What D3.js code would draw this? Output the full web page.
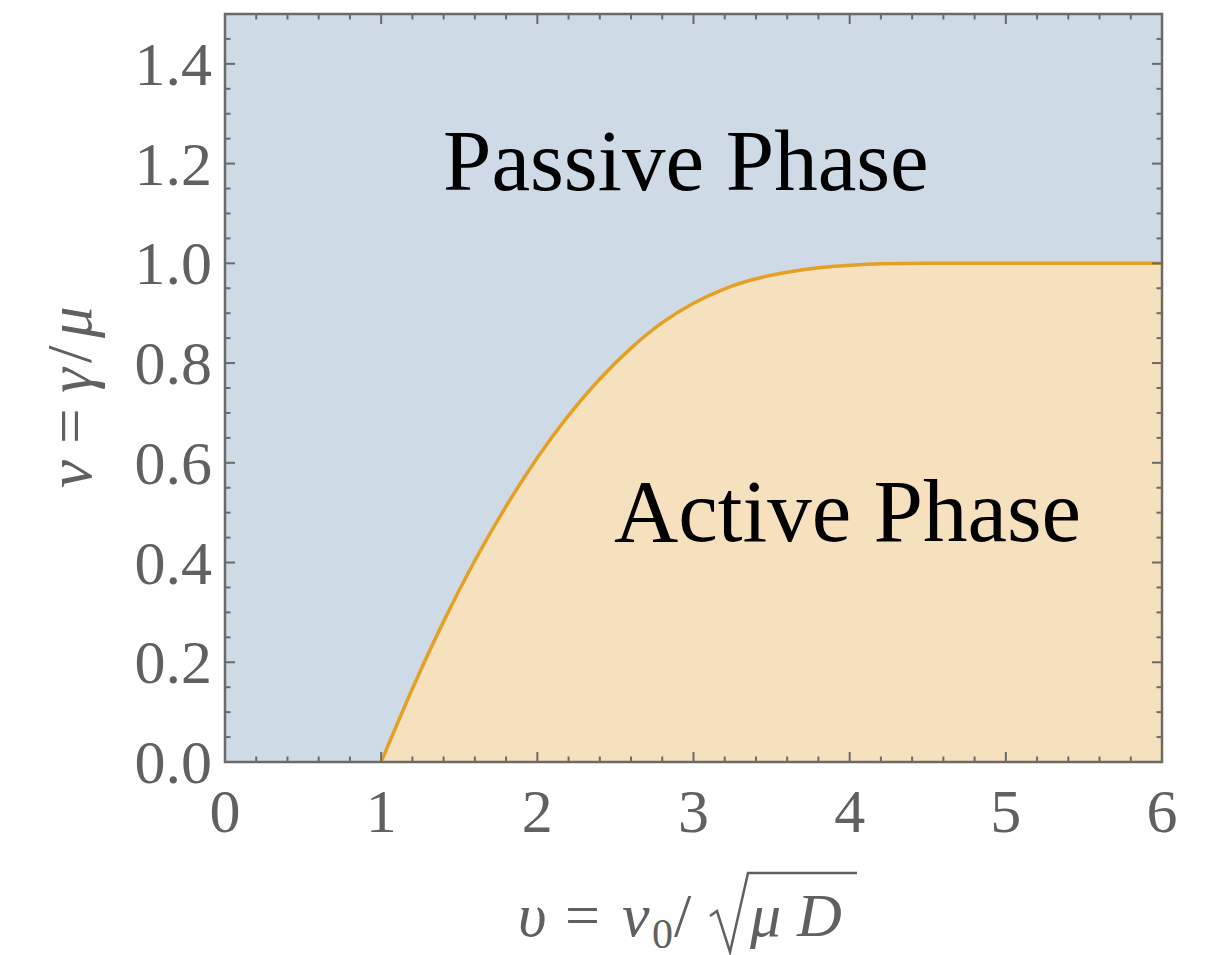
<!DOCTYPE html>
<html>
<head>
<meta charset="utf-8">
<script src="https://cdn.jsdelivr.net/npm/d3@7"></script>
<style>
  body { margin: 0; background: #fff; }
</style>
</head>
<body>
<div id="chart"></div>
<script>
// phase boundary nu(upsilon)
var boundaryX = [1.0, 1.2, 1.4, 1.6, 1.8, 2.0, 2.2, 2.4, 2.6, 2.8, 3.0, 3.2, 3.4, 3.6, 3.8, 4.0, 4.2, 4.5, 5.0, 6.0];
var boundaryY = [0.0, 0.147, 0.282, 0.404, 0.513, 0.610, 0.695, 0.768, 0.830, 0.881, 0.920, 0.949, 0.969, 0.982, 0.991, 0.996, 0.999, 1.0, 1.0, 1.0];
var xTicks = [0, 1, 2, 3, 4, 5, 6];
var yTicks = [0.0, 0.2, 0.4, 0.6, 0.8, 1.0, 1.2, 1.4];
var regionLabels = ["Passive Phase", "Active Phase"];

var W = 1205, H = 955;
var margin = {top: 14, right: 43, bottom: 193, left: 225};
var width = W - margin.left - margin.right;
var height = H - margin.top - margin.bottom;

var svg = d3.select("#chart").append("svg")
    .attr("width", W)
    .attr("height", H);
var g = svg.append("g")
    .attr("transform", "translate(" + margin.left + "," + margin.top + ")");

var x = d3.scaleLinear().domain([0, 6]).range([0, width]);
var y = d3.scaleLinear().domain([0, 1.5]).range([height, 0]);

var pts = boundaryX.map(function (d, i) { return [d, boundaryY[i]]; });

// passive background
g.append("rect")
    .attr("x", 0).attr("y", 0)
    .attr("width", width).attr("height", height)
    .attr("fill", "#cfdae7");

// active region under the curve
var area = d3.area()
    .x(function (d) { return x(d[0]); })
    .y0(y(0))
    .y1(function (d) { return y(d[1]); })
    .curve(d3.curveMonotoneX);
g.append("path")
    .datum(pts)
    .attr("d", area)
    .attr("fill", "#f6e1bf");

var line = d3.line()
    .x(function (d) { return x(d[0]); })
    .y(function (d) { return y(d[1]); })
    .curve(d3.curveMonotoneX);
g.append("path")
    .datum(pts)
    .attr("d", line)
    .attr("fill", "none")
    .attr("stroke", "#e5a024")
    .attr("stroke-width", 3.5);

// ticks on all four sides, major + minor
var frameColor = "#6a6a6a";
var xMinor = d3.range(0, 6.0001, 0.2);
var yMinor = d3.range(0, 1.5001, 0.05);
function isMajor(v, step) { return Math.abs(v / step - Math.round(v / step)) < 1e-6; }

var ticks = g.append("g").attr("stroke", frameColor).attr("stroke-width", 2);
xMinor.forEach(function (v) {
    var len = isMajor(v, 1) ? 10 : 5.5;
    ticks.append("line").attr("x1", x(v)).attr("x2", x(v)).attr("y1", height).attr("y2", height - len);
    ticks.append("line").attr("x1", x(v)).attr("x2", x(v)).attr("y1", 0).attr("y2", len);
});
yMinor.forEach(function (v) {
    var len = isMajor(v, 0.2) ? 10 : 5.5;
    ticks.append("line").attr("y1", y(v)).attr("y2", y(v)).attr("x1", 0).attr("x2", len);
    ticks.append("line").attr("y1", y(v)).attr("y2", y(v)).attr("x1", width).attr("x2", width - len);
});

g.append("rect")
    .attr("x", 0).attr("y", 0)
    .attr("width", width).attr("height", height)
    .attr("fill", "none")
    .attr("stroke", frameColor)
    .attr("stroke-width", 2.5);

// tick labels
var tickFont = "'Liberation Serif', 'Times New Roman', serif";
g.selectAll(".xlab")
    .data(xTicks)
    .enter().append("text")
    .attr("x", function (d) { return x(d); })
    .attr("y", height + 70)
    .attr("text-anchor", "middle")
    .attr("font-family", tickFont)
    .attr("font-size", 62)
    .attr("fill", "#606060")
    .text(function (d) { return d; });

g.selectAll(".ylab")
    .data(yTicks)
    .enter().append("text")
    .attr("x", -13)
    .attr("y", function (d) { return y(d) + 21; })
    .attr("text-anchor", "end")
    .attr("font-family", tickFont)
    .attr("font-size", 62)
    .attr("fill", "#606060")
    .text(function (d) { return d.toFixed(1); });

// region labels
g.append("text")
    .attr("x", 443 - margin.left).attr("y", 190 - margin.top)
    .attr("font-family", tickFont).attr("font-size", 87)
    .attr("fill", "#000")
    .text(regionLabels[0]);
g.append("text")
    .attr("x", 614 - margin.left).attr("y", 541 - margin.top)
    .attr("font-family", tickFont).attr("font-size", 89)
    .attr("fill", "#000")
    .text(regionLabels[1]);

// x axis label: upsilon = v0 / sqrt(mu D)
var labColor = "#606060";
var baseY = 936;
var xl = svg.append("text")
    .attr("y", baseY)
    .attr("font-family", tickFont)
    .attr("font-size", 62)
    .attr("fill", labColor);
xl.append("tspan").attr("x", 518).attr("font-style", "italic").text("\u03c5");
xl.append("tspan").attr("x", 565).text("=");
xl.append("tspan").attr("x", 622).attr("font-style", "italic").text("v");
xl.append("tspan").attr("x", 652).attr("font-size", 42).attr("dy", 12).text("0");
xl.append("tspan").attr("x", 674).attr("dy", -12).text("/");
xl.append("tspan").attr("x", 750).attr("font-style", "italic").text("\u03bc");
xl.append("tspan").attr("x", 797).attr("font-style", "italic").text("D");

var node = xl.node();
var n = node.getNumberOfChars();
var dBox = node.getExtentOfChar(n - 1);
var rx = 748;
var rad = d3.path();
rad.moveTo(rx - 38, baseY - 20);
rad.lineTo(rx - 31, baseY - 25);
rad.lineTo(rx - 18, baseY + 16);
rad.lineTo(rx, baseY - 63);
rad.lineTo(Math.max(dBox.x + dBox.width + 2, 857), baseY - 63);
svg.append("path")
    .attr("d", rad.toString())
    .attr("fill", "none")
    .attr("stroke", labColor)
    .attr("stroke-width", 2.5)
    .attr("stroke-linejoin", "miter");

// y axis label: nu = gamma / mu (rotated, x' = -screenY)
var yl = svg.append("text")
    .attr("transform", "translate(91,0) rotate(-90)")
    .attr("font-family", tickFont)
    .attr("font-size", 63)
    .attr("fill", labColor);
yl.append("tspan").attr("x", -488).attr("font-style", "italic").text("\u03bd");
yl.append("tspan").attr("x", -444).text("=");
yl.append("tspan").attr("x", -393).attr("font-style", "italic").text("\u03b3");
yl.append("tspan").attr("x", -363).text("/");
yl.append("tspan").attr("x", -338).attr("font-style", "italic").text("\u03bc");
</script>
</body>
</html>
